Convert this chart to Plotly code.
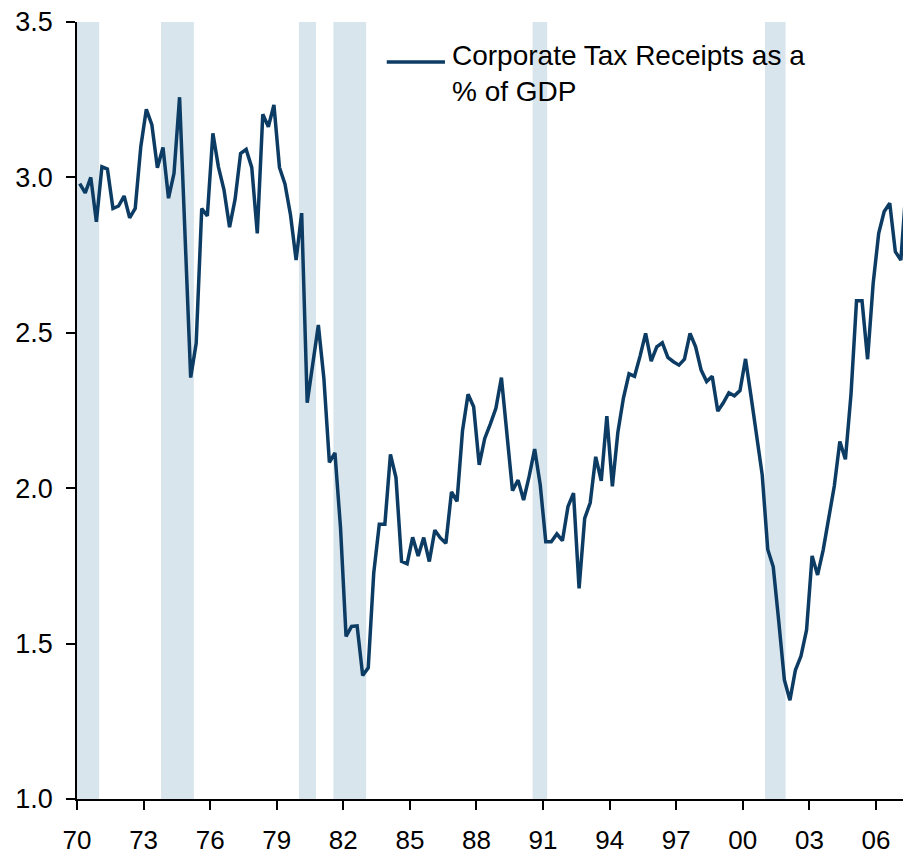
import pandas as pd
import plotly.graph_objects as go

# Quarterly series, 1970Q1 onward: corporate tax receipts as % of GDP
start_quarter = "1970Q1"
tax_pct_gdp = [
    2.98, 2.95, 3.00, 2.857, 3.034, 3.027, 2.90, 2.908, 2.94, 2.87,
    2.90, 3.099, 3.219, 3.17, 3.031, 3.096, 2.933, 3.013, 3.258, 2.81,
    2.356, 2.466, 2.90, 2.876, 3.142, 3.034, 2.96, 2.84, 2.93, 3.077,
    3.09, 3.032, 2.82, 3.203, 3.163, 3.233, 3.032, 2.979, 2.879, 2.734,
    2.885, 2.275, 2.40, 2.525, 2.353, 2.083, 2.114, 1.872, 1.523, 1.555,
    1.557, 1.397, 1.422, 1.727, 1.884, 1.884, 2.109, 2.034, 1.765, 1.757,
    1.842, 1.782, 1.841, 1.764, 1.865, 1.84, 1.823, 1.988, 1.958, 2.185,
    2.302, 2.262, 2.075, 2.16, 2.206, 2.257, 2.356, 2.182, 1.992, 2.026,
    1.962, 2.037, 2.126, 2.01, 1.828, 1.828, 1.853, 1.831, 1.941, 1.984,
    1.678, 1.903, 1.953, 2.101, 2.024, 2.232, 2.006, 2.18, 2.29, 2.368,
    2.36, 2.425, 2.498, 2.409, 2.455, 2.468, 2.421, 2.407, 2.396, 2.415,
    2.498, 2.455, 2.38, 2.343, 2.36, 2.248, 2.275, 2.307, 2.297, 2.314,
    2.416, 2.295, 2.166, 2.043, 1.803, 1.747, 1.57, 1.383, 1.318, 1.415,
    1.46, 1.544, 1.782, 1.721, 1.801, 1.903, 2.007, 2.15, 2.093, 2.302,
    2.603, 2.603, 2.415, 2.659, 2.82, 2.89, 2.917, 2.761, 2.734, 2.98,
]

# Recession shading periods
recession_starts = ["1970-01-01", "1973-10-15", "1980-01-01", "1981-07-22", "1990-07-12", "2001-01-01"]
recession_ends = ["1971-01-01", "1975-04-08", "1980-10-08", "1983-01-12", "1991-03-10", "2001-12-05"]

# Axis ticks
x_tick_years = [1970, 1973, 1976, 1979, 1982, 1985, 1988, 1991, 1994, 1997, 2000, 2003, 2006]
x_tick_labels = ["70", "73", "76", "79", "82", "85", "88", "91", "94", "97", "00", "03", "06"]
y_tick_values = [1.0, 1.5, 2.0, 2.5, 3.0, 3.5]
y_tick_labels = ["1.0", "1.5", "2.0", "2.5", "3.0", "3.5"]

series_name = "Corporate Tax Receipts as a<br>% of GDP"

LINE_COLOR = "#0c3c64"
SHADE_COLOR = "rgb(217,229,236)"
FONT = "Liberation Sans, Arial, sans-serif"

periods = pd.period_range(start_quarter, periods=len(tax_pct_gdp), freq="Q")
dates = [p.start_time + (p.end_time - p.start_time) / 2 for p in periods]

fig = go.Figure()
fig.add_trace(go.Scatter(
    x=dates, y=tax_pct_gdp, mode="lines",
    line=dict(color=LINE_COLOR, width=3.5),
    name="Corporate Tax Receipts as a % of GDP",
    showlegend=False,
))

for s, e in zip(recession_starts, recession_ends):
    fig.add_shape(type="rect", xref="x", yref="paper", x0=s, x1=e, y0=0, y1=1,
                  fillcolor=SHADE_COLOR, line=dict(width=0), layer="below")

# Manual legend (long line sample + wrapped label)
fig.add_shape(type="line", xref="paper", yref="paper",
              x0=0.375, x1=0.4455, y0=0.9485, y1=0.9485,
              line=dict(color=LINE_COLOR, width=3.5))
fig.add_annotation(xref="paper", yref="paper", x=0.451, y=0.98,
                   xanchor="left", yanchor="top", align="left", showarrow=False,
                   text=series_name, font=dict(family=FONT, size=28, color="black"))

fig.update_layout(
    width=903, height=859,
    margin=dict(l=77, r=0, t=22, b=60, autoexpand=False),
    paper_bgcolor="white", plot_bgcolor="white",
    font=dict(family=FONT, size=27, color="black"),
    showlegend=False,
)
fig.update_xaxes(
    type="date",
    range=["1970-01-01", "2007-03-22"],
    tickvals=[f"{y}-01-01" for y in x_tick_years],
    ticktext=x_tick_labels,
    ticks="outside", ticklen=9, tickwidth=1.5, tickcolor="black",
    showline=True, linecolor="black", linewidth=1.5,
    showgrid=False, zeroline=False,
    tickfont=dict(family=FONT, size=26),
    ticklabelstandoff=8,
    automargin=False,
)
fig.update_yaxes(
    range=[1.0, 3.5],
    tickvals=y_tick_values, ticktext=y_tick_labels,
    ticks="outside", ticklen=9, tickwidth=1.5, tickcolor="black",
    showline=True, linecolor="black", linewidth=1.5,
    showgrid=False, zeroline=False,
    tickfont=dict(family=FONT, size=27),
    ticklabelstandoff=8,
    automargin=False,
)

fig.write_html("out.html", config={"displayModeBar": False},
               post_script="document.body.style.margin='0';")
